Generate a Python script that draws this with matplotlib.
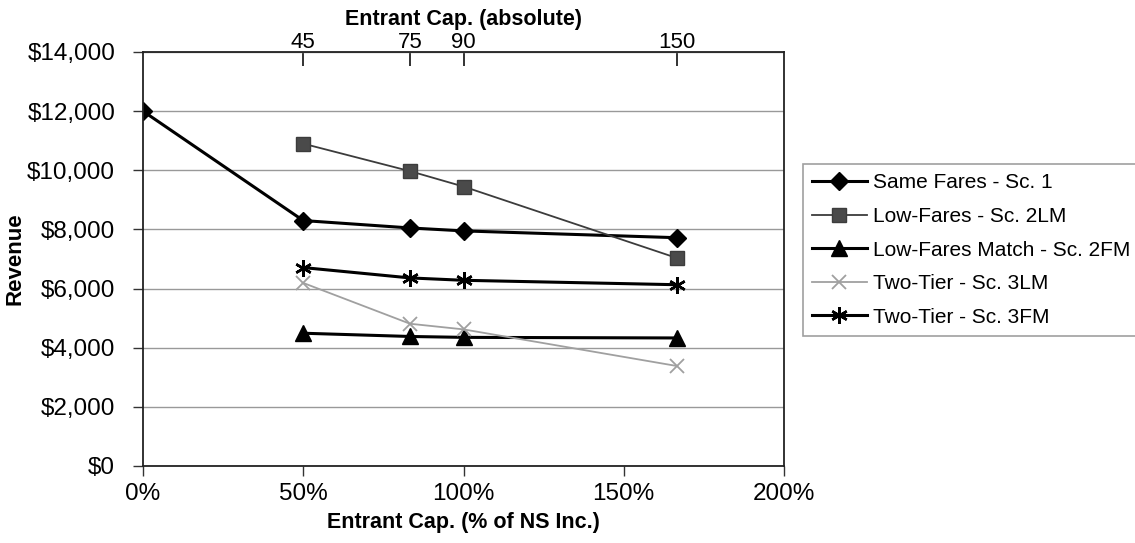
import matplotlib.pyplot as plt
from matplotlib.ticker import FuncFormatter

plt.rcParams['font.family'] = ['Liberation Sans', 'DejaVu Sans']

# entrant capacity as % of NS Inc. capacity (90 seats = 100%)
cap_pct = [0, 50, 83.33, 100, 166.67]
cap_pct_entrant = [50, 83.33, 100, 166.67]
abs_ticks = [45, 75, 90, 150]

same_fares = [12000, 8300, 8050, 7950, 7720]
low_fares_2lm = [10900, 9970, 9450, 7030]
low_fares_match_2fm = [4490, 4380, 4350, 4330]
two_tier_3lm = [6190, 4810, 4620, 3380]
two_tier_3fm = [6710, 6360, 6280, 6130]

labels = ["Same Fares - Sc. 1", "Low-Fares - Sc. 2LM", "Low-Fares Match - Sc. 2FM",
          "Two-Tier - Sc. 3LM", "Two-Tier - Sc. 3FM"]

fig = plt.figure(figsize=(11.35, 5.43), dpi=100)
ax = fig.add_axes([143 / 1135, 1 - 466 / 543, (784 - 143) / 1135, (466 - 52) / 543])

ax.plot(cap_pct, same_fares, color='black', lw=2.2, marker='D', ms=9.5, label=labels[0])
ax.plot(cap_pct_entrant, low_fares_2lm, color='#3c3c3c', lw=1.3, marker='s', ms=10.5,
        mfc='#4a4a4a', mec='#3c3c3c', label=labels[1])
ax.plot(cap_pct_entrant, low_fares_match_2fm, color='black', lw=2.2, marker='^', ms=11.5,
        label=labels[2])
ax.plot(cap_pct_entrant, two_tier_3lm, color='#a0a0a0', lw=1.3, marker='x', ms=10, mew=1.3,
        label=labels[3])
ax.plot(cap_pct_entrant, two_tier_3fm, color='black', lw=2.2, marker=(6, 2, 0), ms=12, mew=1.8,
        label=labels[4])

ax.set_xlim(0, 200)
ax.set_ylim(0, 14000)
ax.set_xticks([0, 50, 100, 150, 200])
ax.set_yticks(range(0, 14001, 2000))
ax.xaxis.set_major_formatter(FuncFormatter(lambda v, p: f"{v:.0f}%"))
ax.yaxis.set_major_formatter(FuncFormatter(lambda v, p: f"${v:,.0f}"))
ax.tick_params(axis='both', labelsize=17.5, direction='out', length=7, width=1, color='#333333')
ax.tick_params(axis='x', pad=5)
ax.tick_params(axis='y', pad=13)
ax.grid(axis='y', color='#999999', lw=1)
ax.set_axisbelow(True)
for s in ax.spines.values():
    s.set_color('#222222')
    s.set_linewidth(1.3)

ax.set_xlabel("Entrant Cap. (% of NS Inc.)", fontsize=15.5, fontweight='bold', labelpad=5)
ax.set_ylabel("Revenue", fontsize=16, fontweight='bold')
ax.yaxis.set_label_coords(-0.183, 0.5)

top = ax.secondary_xaxis('top', functions=(lambda p: p * 0.9, lambda a: a / 0.9))
top.set_xticks(abs_ticks)
top.tick_params(labelsize=16, direction='in', length=10, width=1.3, color='#222222', pad=-1)
top.spines['top'].set_visible(False)
top.set_xlabel("Entrant Cap. (absolute)", fontsize=15.5, fontweight='bold', labelpad=5)

leg = fig.legend(loc='upper left', bbox_to_anchor=(803 / 1135, 1 - 164 / 543), fontsize=15,
                 frameon=True, fancybox=False, edgecolor='#888888', borderpad=0.45,
                 labelspacing=0.7, handlelength=2.6, handletextpad=0.3, borderaxespad=0)
leg.get_frame().set_linewidth(1.2)

fig.savefig('out.png', dpi=100)
